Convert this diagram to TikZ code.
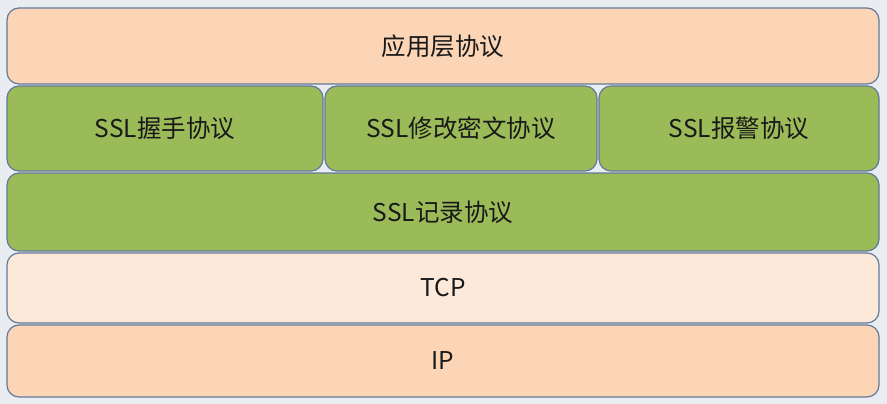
\documentclass[tikz,border=0pt]{standalone}
\usepackage{fontspec}
\newfontfamily\cjk{Noto Sans CJK SC}
\definecolor{bgc}{HTML}{E9EDF1}
\definecolor{peach}{HTML}{FBD5B5}
\definecolor{greenc}{HTML}{9BBB59}
\definecolor{lightp}{HTML}{FDE9DA}
\definecolor{edgec}{HTML}{62799A}
\begin{document}
\begin{tikzpicture}[x=1pt,y=-1pt,
  layer/.style={draw=edgec, line width=1.2pt, rounded corners=12pt},
  lbl/.style={font=\cjk\fontsize{24.5}{28}\selectfont, text=black!90}]
\fill[bgc] (0,0) rectangle (887,404);
\useasboundingbox (0,0) rectangle (887,404);
\draw[layer, fill=peach] (7,8) rectangle (879,84);
\node[lbl] (app) at (443,46) {应用层协议};
\draw[layer, fill=greenc] (7,86) rectangle (323,171);
\node[lbl] (hs) at (165,128) {SSL握手协议};
\draw[layer, fill=greenc] (325,86) rectangle (597,171);
\node[lbl] (ccs) at (461,128) {SSL修改密文协议};
\draw[layer, fill=greenc] (599,86) rectangle (879,171);
\node[lbl] (alert) at (739,128) {SSL报警协议};
\draw[layer, fill=greenc] (7,173) rectangle (879,251);
\node[lbl] (rec) at (443,212) {SSL记录协议};
\draw[layer, fill=lightp] (7,253) rectangle (879,323);
\node[lbl] (tcp) at (443,288) {TCP};
\draw[layer, fill=peach] (7,325) rectangle (879,397);
\node[lbl] (ip) at (443,361) {IP};
\end{tikzpicture}
\end{document}
